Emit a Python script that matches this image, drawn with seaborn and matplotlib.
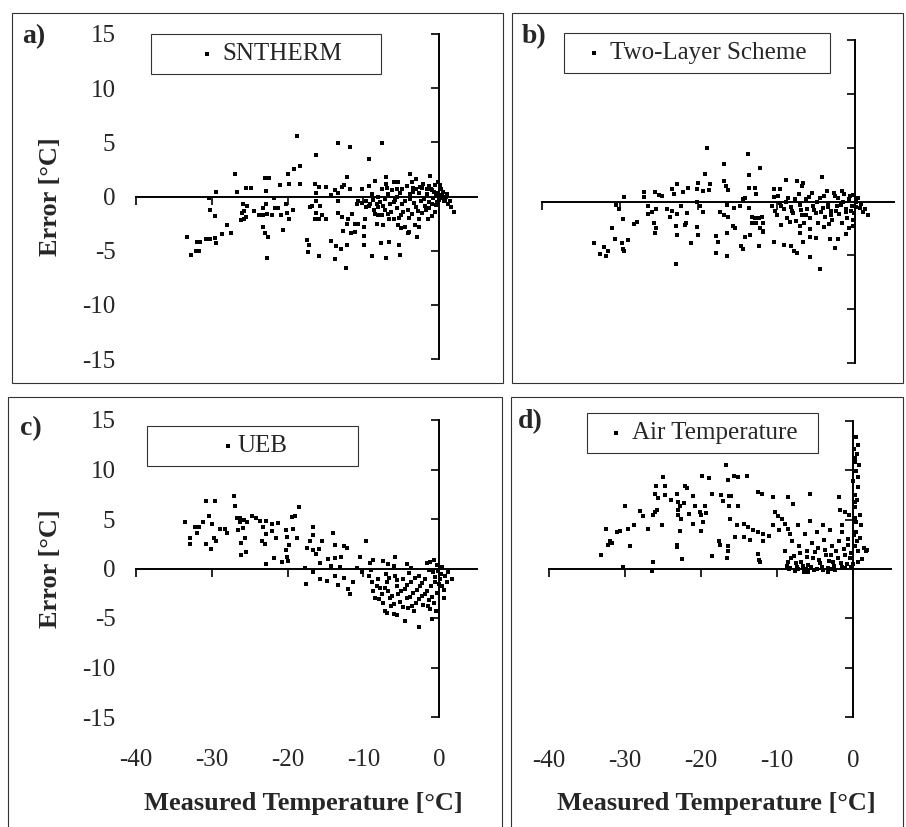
import matplotlib
matplotlib.use('Agg')
import matplotlib.pyplot as plt
from matplotlib.patches import Rectangle
import seaborn as sns

sns.set_style('white')
plt.rcParams['font.family'] = ['Liberation Serif', 'DejaVu Sans']
plt.rcParams['axes.unicode_minus'] = False

# Data (measured temperature, error), both in °C
panel_names = ['SNTHERM', 'Two-Layer Scheme', 'UEB', 'Air Temperature']
panel_letters = ['a)', 'b)', 'c)', 'd)']
x_ticks = [-40, -30, -20, -10, 0]
y_ticks = [-15, -10, -5, 0, 5, 10, 15]

sntherm_t = [
    -18.7, -13.4, -11.8, -7.5, -16.3, -9.3, -26.9, -18.3, -19.1, -19.9,
    -23.0, -22.4, -12.1, -3.8, -1.2, -7.0, -8.4, -25.5, -24.8, -29.4,
    -26.7, -22.8, -21.0, -19.8, -18.3, -16.4, -15.8, -14.9, -16.2, -13.7,
    -12.8, -12.6, -10.2, -9.2, -14.3, -13.3, -11.8, -30.4, -30.2, -29.6,
    -28.0, -27.5, -33.3, -32.7, -32.1, -31.7, -32.0, -31.5, -30.7, -30.3,
    -29.6, -29.4, -28.7, -25.9, -25.3, -25.7, -26.0, -25.5, -26.2, -25.8,
    -24.4, -23.8, -23.2, -22.8, -23.2, -22.7, -22.0, -21.6, -21.3, -20.8,
    -21.8, -20.2, -20.1, -19.3, -19.8, -23.3, -23.0, -22.6, -20.6, -22.7,
    -17.1, -16.8, -16.3, -15.7, -16.2, -15.4, -16.4, -15.9, -14.9, -17.4,
    -17.2, -17.3, -15.9, -14.3, -13.6, -13.0, -13.8, -12.3, -12.1, -13.3,
    -13.3, -12.8, -12.0, -12.1, -11.5, -11.1, -12.7, -11.6, -11.1, -10.7,
    -9.8, -9.9, -9.9, -9.9, -8.8, -7.0, -7.7, -6.6, -5.1, -5.3,
    -4.1, -2.9, -8.0, -7.5, -6.7, -8.2, -7.4, -6.6, -6.0, -5.4,
    -5.0, -4.5, -4.0, -3.2, -2.7, -1.5, -0.5,
    -9.6, -9.1, -8.7, -8.2, -7.8, -7.4, -7.1, -6.8, -6.5, -6.2,
    -5.8, -5.6, -5.4, -5.2, -4.9, -4.5, -4.1, -3.8, -3.5, -3.3,
    -3.0, -2.7, -2.4, -2.1, -1.9, -1.6, -1.3, -1.1, -0.8, -0.6,
    -0.4, -0.2, 0.0, 0.2, 0.4, 0.6, 0.9, 1.2, 1.6, 1.9,
    -8.9, -8.0, -7.5, -7.0, -5.9, -5.6, -4.9, -4.3, -3.6, -3.1,
    -2.3, -1.6, -1.0, -0.4, -6.4, -5.0, -3.6, -2.3, -1.3, -9.6,
    -8.6, -10.2, -10.7, -10.9,
    -9.3, -8.4, -7.2, -6.0, -5.5, -4.7, -3.9, -3.4, -2.8, -2.5,
    -2.0, -1.7, -1.4, -1.0, -0.7, -0.3, 0.1, 0.3, 0.5, 0.8,
    1.1, 1.4, -6.9, -4.0, -2.6, -8.1, -5.3, -0.9, -3.1, -0.1,
]
sntherm_err = [
    5.6, 4.9, 4.6, 4.9, 3.8, 3.5, 2.1, 2.8, 2.5, 2.1,
    1.7, 1.7, 1.8, 2.1, 1.9, 1.8, 1.4, 0.8, 0.8, 0.4,
    0.4, 0.5, 1.1, 1.2, 1.2, 1.2, 0.9, 0.9, 0.3, 0.6,
    0.9, 1.1, 0.7, 1.0, 0.1, 0.3, 0.7, -0.1, -1.2, -1.8,
    -2.6, -3.4, -3.7, -5.4, -5.0, -5.0, -4.2, -4.2, -3.9, -3.9,
    -3.8, -4.3, -3.5, -0.7, -0.9, -1.3, -1.5, -1.9, -2.2, -2.1,
    -1.3, -1.7, -1.1, -0.7, -1.7, -1.6, -1.7, -1.1, -1.1, -1.7,
    -0.1, -0.7, -1.5, -1.2, -2.1, -2.8, -3.4, -3.7, -3.1, -5.7,
    -1.0, -0.9, -0.4, -0.9, -1.5, -1.7, -2.1, -2.1, -2.1, -4.0,
    -4.5, -5.1, -5.5, -4.1, -4.6, -4.8, -5.8, -6.6, -4.5, -0.4,
    -1.5, -1.9, -2.1, -2.5, -1.6, -2.5, -3.2, -3.4, -3.3, -2.5,
    -2.1, -2.8, -3.6, -4.5, -5.5, -5.7, -4.3, -4.2, -5.4, -4.5,
    -3.4, -3.7, -1.7, -1.7, -1.6, -2.5, -2.6, -2.1, -2.1, -2.6,
    -2.9, -2.8, -3.3, -2.6, -2.8, -2.1, -1.4,
    -0.4, -0.7, -0.3, -0.7, -0.5, -0.9, -0.2, 0.2, -0.7, 0.6,
    -0.3, -1.1, 1.3, 0.3, -0.7, -0.4, -1.2, 0.2, 0.8, -0.6,
    -1.0, 0.3, -0.4, 1.2, -0.9, 0.2, -0.5, 0.7, -0.1, 1.1,
    -0.8, 0.3, -0.3, 0.7, 0.1, -0.4, 0.0, -0.7, -1.0, -1.4,
    0.2, 0.0, 0.7, 1.2, 1.3, 0.7, 0.7, 1.0, 1.3, 0.7,
    0.8, 0.7, 0.6, 0.2, -1.4, -1.7, -1.6, -1.5, -1.1, -1.0,
    -1.2, -0.6, -0.4, -0.7,
    -0.9, -1.6, -1.2, -0.5, 0.0, -1.4, -0.2, 0.4, -1.3, 0.9,
    -0.2, -1.2, 1.0, -0.7, 0.4, -0.5, 1.1, -0.1, 0.4, -0.3,
    0.2, -0.4, 0.8, -2.0, -2.1, -1.0, -2.0, -1.8, 1.6, 1.3,
]

two_layer_t = [
    -18.9, -13.7, -16.7, -12.1, -13.5, -19.1, -4.2, -8.8, -7.4, -6.6,
    -6.8, -16.7, -16.5, -16.2, -13.6, -12.8, -12.6, -10.4, -9.6, -9.8,
    -10.4, -22.7, -23.4, -23.1, -22.0, -21.3, -20.1, -20.2, -19.4, -18.5,
    -18.7, -26.9, -26.9, -25.6, -25.1, -24.6, -29.5,
    -30.5, -30.2, -29.7, -31.1, -28.2, -27.8, -30.7, -29.8, -29.0, -29.6,
    -29.5, -33.3, -32.1, -32.6, -31.8, -31.5,
    -26.5, -26.0, -25.4, -26.5, -25.7, -25.4, -25.5,
    -24.0, -23.4, -22.8, -23.7, -22.9, -22.8, -21.6, -21.7, -21.4, -22.2,
    -20.2, -19.8, -19.4, -20.2, -20.0, -20.9,
    -17.3, -16.7, -16.2, -15.6, -15.3, -16.3, -17.7, -17.5, -17.7, -16.3, -22.9,
    -16.4, -15.5, -14.7, -14.0, -14.3, -13.5, -13.2, -12.8, -12.3, -11.9,
    -11.7, -12.6, -13.2, -12.1, -11.8, -11.7, -12.3, -14.1, -13.4, -14.6, -14.3,
    -10.4, -9.5, -9.1, -8.2, -7.8, -7.4, -7.0, -6.6, -5.7, -5.7,
    -5.0, -4.4, -3.2, -2.6, -2.1, -1.1, -0.7, -0.3,
    -10.6, -10.2, -9.9, -9.6, -9.1, -8.7, -8.5, -8.2, -7.9, -7.5,
    -7.2, -7.0, -6.7, -6.5, -6.3, -6.1, -5.7, -5.5, -5.3, -5.0,
    -4.7, -4.4, -4.1, -3.8, -3.6, -3.4, -3.1, -2.9, -2.6, -2.3,
    -2.0, -1.7, -1.5, -1.2, -1.0, -0.6, -0.4, -0.1, 0.2, 0.6,
    1.0, 1.7, -4.0, -5.7, -7.0,
    -9.4, -8.8, -8.0, -7.6, -6.9, -6.2, -5.9, -5.2, -4.9, -4.3,
    -3.9, -3.5, -3.0, -2.7, -2.4, -2.1, -1.8, -1.4, -1.1, -0.8,
    -0.5, -0.2, 0.1, 0.4, 0.8, 1.3, -8.3, -3.3, -1.6, -0.3,
]
two_layer_err = [
    5.0, 4.4, 3.5, 3.1, 2.5, 2.6, 2.3, 2.0, 1.9, 1.7,
    1.4, 1.9, 1.4, 1.1, 1.3, 1.3, 0.7, 1.2, 1.2, 0.5,
    0.4, 1.6, 1.2, 0.7, 0.9, 1.3, 1.7, 1.2, 1.0, 1.6,
    1.1, 0.9, 0.4, 0.9, 0.6, 0.5, 0.4,
    -0.3, -0.7, -1.6, -2.5, -2.1, -1.9, -3.5, -3.9, -3.6, -4.4,
    -4.6, -3.9, -4.2, -4.9, -5.1, -4.6,
    -0.4, -1.0, -0.7, -1.2, -2.0, -2.5, -2.9,
    -0.7, -0.9, -1.2, -1.4, -2.3, -3.1, -2.0, -2.2, -1.1, -0.4,
    0.0, -0.4, -1.0, -2.4, -3.1, -3.9,
    -1.0, -1.3, -1.4, -2.3, -2.5, -2.9, -3.2, -3.8, -4.8, -5.1, -5.8,
    -0.3, -0.6, -0.4, 0.3, 0.2, -0.6, -1.4, -1.5, -1.5, -1.4,
    -2.0, -2.0, -2.0, -2.5, -2.7, -2.8, -4.1, -3.3, -3.1, -4.1, -4.4,
    -3.8, -2.2, -4.0, -4.1, -4.6, -4.8, -2.3, -3.8, -5.2, -3.3,
    -3.4, -6.3, -3.5, -4.3, -3.5, -3.0, -2.5, -2.3,
    -0.4, -0.9, -1.3, -0.1, -0.7, -1.5, 0.3, -0.5, -1.1, -1.8,
    0.7, -0.3, -1.3, -2.0, 0.2, -0.7, -1.5, 0.8, -0.4, -1.1,
    -2.0, 0.3, -0.6, -1.4, 1.0, -0.1, -0.9, -1.7, 0.5, -0.4,
    -1.2, 1.0, 0.0, -0.7, -1.5, 0.5, -0.4, -1.1, 0.0, -0.6,
    -1.0, -1.3, -2.4, -2.6, -2.9,
    -0.4, 0.0, -0.9, 0.2, -0.8, -1.3, 0.4, -0.8, 0.0, -1.0,
    0.5, -0.5, -1.3, 0.8, -0.9, 0.3, -0.3, 0.7, -1.0, 0.2,
    -0.9, 0.6, -0.5, 0.3, -0.2, -0.7, -1.9, -2.1, -2.0, -1.7,
]

ueb_t = [
    -27.1, -30.7, -29.6, -26.9, -18.5, -30.4, -33.5, -31.2, -32.2, -31.7,
    -32.0, -32.9, -32.9, -30.0, -28.9, -28.3, -28.0, -29.7, -29.5, -30.1, -30.8,
    -26.7, -26.3, -25.8, -25.3, -26.3, -24.7, -24.2, -26.5, -25.9, -25.6,
    -26.1, -25.5, -26.2,
    -23.6, -22.8, -22.1, -21.2, -23.3, -22.1, -22.9, -23.4, -23.0, -21.5, -21.8, -22.9,
    -20.2, -19.3, -20.1, -18.8, -19.8, -20.2, -20.1, -20.7, -20.0, -19.4, -19.0,
    -16.7, -16.7, -17.0, -17.4, -16.6, -15.9, -16.2, -15.4, -14.0, -13.7,
    -12.6, -12.2, -9.6, -5.8, -17.7, -17.6,
    -15.7, -14.6, -13.7, -12.9, -13.1, -14.3, -13.8, -14.8, -15.7, -16.6,
    -13.3, -12.6, -12.0, -11.7, -11.3, -10.4, -10.9, -10.2, -9.1, -8.7,
    -7.4, -6.7, -6.0, -4.3, -3.7, -1.6, -0.7,
    -9.3, -8.9, -8.7, -8.5, -8.0, -7.8, -7.6, -7.4, -7.1, -6.9,
    -6.7, -6.5, -6.3, -6.0, -5.8, -5.6, -5.4, -5.2, -4.7, -4.5,
    -4.3, -4.1, -3.7, -3.5, -3.3, -3.0, -2.7, -2.5, -2.3, -2.1,
    -1.9, -1.6, -1.4, -1.2, -1.0, -0.8, -0.5, -0.3, -0.1, 0.1,
    0.4, 0.7, 0.8, 1.2, 1.7, -4.5, -2.7, -5.6, -6.9, -0.7,
    -1.2, -0.3, 0.4,
    -9.0, -8.2, -7.9, -7.2, -6.6, -6.2, -5.9, -5.5, -5.0, -4.8,
    -4.2, -3.9, -3.6, -3.2, -2.9, -2.6, -2.2, -1.8, -1.5, -1.1,
    -0.9, -0.6, -0.4, 0.0, 0.3, 0.6, 1.0, -7.0, -4.0, -1.3,
]
ueb_err = [
    7.3, 6.8, 6.8, 6.3, 6.2, 5.3, 4.7, 4.7, 4.2, 4.2,
    3.6, 3.1, 2.5, 4.5, 4.0, 4.0, 3.6, 3.1, 2.8, 2.0, 2.5,
    5.1, 5.1, 4.9, 4.7, 4.7, 5.3, 5.1, 3.9, 4.1, 3.1,
    2.6, 1.7, 1.4,
    4.8, 4.8, 4.5, 4.6, 4.2, 3.8, 3.5, 2.8, 2.5, 3.1, 1.1, 0.5,
    3.9, 4.0, 3.2, 3.1, 2.4, 1.9, 1.2, 0.7, 0.8, 5.2, 5.3,
    4.2, 3.4, 2.8, 2.1, 1.9, 2.0, 1.5, 2.8, 3.6, 2.4,
    2.3, 2.1, 2.8, 1.2, 0.1, -1.6,
    0.6, 1.0, 1.1, 1.2, 0.2, 0.3, -0.8, -1.3, -1.1, -0.4,
    -1.7, -1.0, -2.1, -2.6, -1.4, 1.2, 0.1, -0.4, 0.6, 0.9,
    0.8, 0.5, 0.3, 0.5, 0.1, 0.6, 0.9,
    -0.8, -1.4, -2.3, -3.0, -1.1, -2.0, -2.6, -3.5, -4.3, -1.4,
    -2.3, -3.0, -3.8, -4.6, -0.8, -1.8, -2.6, -3.4, -1.1, -2.1,
    -3.0, -4.0, -1.4, -2.5, -4.3, -3.5, -0.8, -1.8, -2.8, -3.7,
    -1.1, -2.3, -3.2, -4.1, -5.1, -0.4, -1.4, -2.5, -0.3, -1.1,
    -1.8, -3.0, -0.8, -0.4, -1.1, -5.3, -5.9, -4.7, -4.5, -3.5,
    0.7, 0.4, 0.2,
    -0.2, -1.8, -3.1, -2.0, -1.0, -2.8, -3.6, -1.2, -2.3, -3.9,
    -1.7, -2.9, -3.8, -1.0, -2.2, -3.1, -1.5, -2.6, -3.8, -1.8,
    -2.9, -0.9, -4.3, -1.6, -0.6, -2.2, -1.4, -0.6, -0.5, -0.2,
]

air_t = [
    -16.7, -25.0, -19.9, -18.9, -16.5, -15.6, -15.1, -13.9, -25.9, -24.7, -22.1, -21.9,
    -26.1, -25.6, -24.7, -23.2, -23.9, -23.0, -22.3, -21.1, -18.5, -17.4,
    -16.3, -16.0, -17.1, -15.1, -16.3,
    -12.5, -12.0, -10.5, -8.5, -5.7, -1.9, -7.9,
    -30.0, -28.0, -27.6, -26.1, -26.3, -25.8, -25.1, -27.0, -22.8, -23.0,
    -23.0, -22.6, -21.6, -21.1, -20.1, -20.0, -19.8, -19.3, -20.0, -20.8, -19.5, -22.8,
    -32.5, -32.0, -31.7, -32.2, -33.2, -31.0, -30.7, -29.6, -28.8, -29.3,
    -30.2, -26.3, -26.5, -22.5, -23.1, -23.2, -18.6, -17.6, -17.5, -16.5,
    -16.5, -16.6, -12.5, -12.4, -12.2,
    -16.2, -15.2, -14.3, -13.8, -13.1, -12.5, -11.8, -11.1, -10.5, -10.3,
    -9.9, -9.3, -9.0, -8.5, -9.8, -8.3, -11.8, -13.6, -14.4, -15.5,
    -8.9, -8.5, -8.3, -8.0, -7.7, -7.4, -7.3, -7.1, -6.8, -6.5,
    -6.3, -6.1, -5.9, -5.7, -5.4, -5.2, -5.1, -4.8, -4.6, -4.3,
    -4.0, -3.8, -3.6, -3.3, -3.0, -2.8, -2.6, -2.4, -2.2, -1.8,
    -1.6, -1.4, -1.1, -1.0, -0.7, -0.5, -0.4, -0.2, 0.0, 0.2,
    0.3, 0.4, 0.4, 0.5, 0.6, 0.7, 0.1, 0.3, 0.4, 0.6,
    0.5, 0.8, 0.2, 0.9, 1.1, 1.4, 1.7, 1.9, -1.5, -1.0,
    -1.7, -6.4, -7.6, -3.3, -5.9, 0.4,
    -8.7, -8.1, -7.5, -7.0, -6.6, -6.0, -5.5, -5.0, -4.5, -4.1,
    -3.7, -3.2, -2.9, -2.5, -2.0, -1.5, -1.2, -0.8, -0.6, -0.3,
    0.0, 0.1, 0.2, 0.3, 0.5, 0.6, 0.7, 0.3, 0.9, 1.2,
    -8.4, -7.2, -6.2, -4.7, -3.9, -2.8,
]
air_err = [
    10.5, 9.3, 9.4, 9.2, 9.0, 9.4, 9.3, 9.4, 8.4, 8.4, 8.4, 8.2,
    7.6, 7.2, 7.5, 7.6, 7.0, 6.8, 6.7, 7.4, 7.6, 7.5,
    7.4, 7.4, 6.9, 6.4, 6.4,
    7.8, 7.6, 7.3, 7.3, 7.6, 7.3, 6.6,
    6.4, 5.9, 5.4, 5.8, 5.5, 6.0, 4.5, 4.1, 6.4, 6.0,
    5.5, 5.1, 5.6, 4.6, 5.8, 5.5, 4.8, 5.7, 3.9, 6.4, 6.4, 3.9,
    4.1, 2.8, 2.6, 2.4, 1.4, 3.7, 3.9, 4.1, 4.5, 2.3,
    0.2, 0.7, -0.2, 1.0, 2.4, 2.2, 1.3, 2.8, 2.4, 2.3,
    1.8, 1.1, 1.5, 0.9, 0.7,
    5.1, 4.5, 4.6, 4.3, 4.0, 3.8, 3.5, 3.3, 4.5, 5.8,
    5.4, 5.1, 4.6, 4.1, 4.0, 3.5, 2.8, 2.9, 3.2, 3.2,
    1.8, 0.7, 0.1, 2.8, 1.3, 0.2, 4.5, 2.3, 0.7, -0.1,
    3.5, 1.8, 0.4, 4.9, 2.6, 1.1, -0.1, 3.8, 2.1, 0.6,
    4.5, 2.9, 1.4, 0.1, 4.0, 2.3, 0.7, -0.1, 1.8, 2.8,
    0.6, 3.8, 1.4, 0.1, 2.4, 5.5, 1.1, 0.2, 8.9, 7.5,
    6.3, 4.8, 3.8, 2.8, 1.8, 0.7, 12.2, 11.2, 9.9, 12.6,
    11.7, 10.5, 6.8, 5.5, 4.5, 2.1, 1.8, 1.9, 4.5, 5.8,
    6.0, -0.3, -0.2, -0.3, -0.3, 13.4,
    0.3, 1.1, 0.6, 1.6, 0.3, 1.2, 0.2, 1.7, 0.9, 0.2,
    1.9, 0.8, 1.4, 0.3, 1.1, 0.2, 2.0, 0.5, 3.0, 1.6,
    0.5, 3.4, 2.3, 5.2, 7.0, 8.3, 9.3, 10.8, 3.1, 1.0,
    0.0, 0.0, 0.0, 0.0, -0.1, 0.0,
]

series = [(sntherm_t, sntherm_err), (two_layer_t, two_layer_err),
          (ueb_t, ueb_err), (air_t, air_err)]

# layout in pixels of the 906x827 original (left, top, right, bottom)
W, H = 906, 827
frames = [(12, 13, 503, 383), (512, 13, 903, 383), (8, 397, 502, 840), (511, 397, 903, 840)]
plot_boxes = [(136, 34, 477, 359), (542, 40, 894, 363), (136, 420, 477, 717), (549, 421, 891, 717)]
legend_boxes = [(151, 34, 381, 80), (564, 33, 830, 79), (147, 426, 358, 472), (587, 413, 818, 459)]
legend_pads = [(3.78, -1.29), (1.7, -0.21), (5.78, -2.53), (1.62, -0.17)]
letter_pos = [(22, 43), (522, 43), (20, 435), (518, 428)]


def to_fig(left, top, right, bottom):
    return [left / W, 1 - bottom / H, (right - left) / W, (bottom - top) / H]


fig = plt.figure(figsize=(W / 100, H / 100), dpi=100)

for box in frames:
    x0, y0, w, h = to_fig(*box)
    fig.add_artist(Rectangle((x0, y0), w, h, transform=fig.transFigure, fill=False,
                             edgecolor='#333333', linewidth=0.8))

for i, name in enumerate(panel_names):
    ax = fig.add_axes(to_fig(*plot_boxes[i]))
    ax.set_facecolor('none')
    x, y = series[i]
    sns.scatterplot(x=x, y=y, ax=ax, marker='s', s=9, color='black', linewidth=0, label=name)
    ax.set_xlim(-40, 5)
    ax.set_ylim(-15, 15)

    # axes cross at zero, Excel style
    ax.spines['top'].set_visible(False)
    ax.spines['right'].set_visible(False)
    ax.spines['left'].set_position(('data', 0))
    ax.spines['bottom'].set_position(('data', 0))
    for side in ['left', 'bottom']:
        ax.spines[side].set_linewidth(1.4)
        ax.spines[side].set_color('black')
    ax.set_xticks(x_ticks)
    ax.set_yticks(y_ticks)
    ax.tick_params(axis='y', left=True, direction='out', length=6, width=1.2, color='black',
                   pad=227, labelsize=18, labelleft=(i % 2 == 0))
    ax.tick_params(axis='x', bottom=True, direction='out', length=6, width=1.2, color='black',
                   pad=124, labelsize=18, labelbottom=(i >= 2))

    if i % 2 == 0:
        ax.set_ylabel('Error [°C]', fontsize=19, fontweight='bold')
        ax.yaxis.set_label_coords(-0.217, 0.5)
    else:
        ax.set_ylabel('')
    if i >= 2:
        ax.set_xlabel('Measured Temperature [°C]', fontsize=19, fontweight='bold')
        ax.xaxis.set_label_coords(0.49, -0.253)
    else:
        ax.set_xlabel('')

    hl, htp = legend_pads[i]
    leg = ax.legend(loc='upper left', bbox_to_anchor=to_fig(*legend_boxes[i]),
                    bbox_transform=fig.transFigure, mode='expand', borderaxespad=0,
                    borderpad=0.35, handlelength=hl, handletextpad=htp, fontsize=18,
                    frameon=True, fancybox=False, framealpha=1, scatterpoints=1)
    leg.get_frame().set_edgecolor('#333333')
    leg.get_frame().set_linewidth(0.8)

    lx, ly = letter_pos[i]
    fig.text(lx / W, 1 - ly / H, panel_letters[i], fontsize=20, fontweight='bold',
             ha='left', va='baseline')

fig.savefig('out.png', dpi=100)
